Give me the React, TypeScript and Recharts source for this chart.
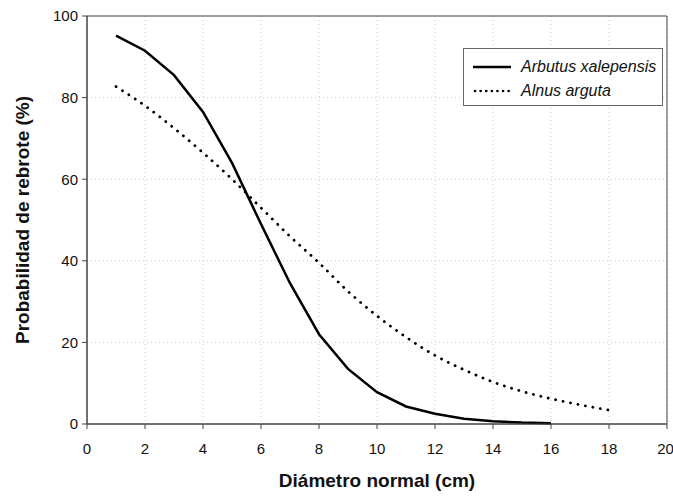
import {
  CartesianGrid,
  Legend,
  Line,
  LineChart,
  ReferenceArea,
  XAxis,
  YAxis,
} from "recharts";

const diametros = [1, 2, 3, 4, 5, 6, 7, 8, 9, 10, 11, 12, 13, 14, 15, 16, 17, 18];
const arbutus = [95.2, 91.5, 85.5, 76.5, 64, 49, 34.5, 22, 13.5, 7.8, 4.3, 2.5, 1.3, 0.7, 0.35, 0.2];
const alnus = [82.7, 78, 72.5, 66.5, 60, 53, 46, 39.5, 32.5, 26.5, 21.3, 16.8, 13.3, 10.3, 8, 6.2, 4.7, 3.4];
const xTicks = [0, 2, 4, 6, 8, 10, 12, 14, 16, 18, 20];
const yTicks = [0, 20, 40, 60, 80, 100];
const seriesNames = ["Arbutus xalepensis", "Alnus arguta"];

const data = diametros.map((d, i) => ({
  d,
  arbutus: arbutus[i],
  alnus: alnus[i],
}));

const font = "Arial, 'Liberation Sans', sans-serif";

const LegendBox = () => (
  <div
    style={{
      border: "1px solid #666",
      background: "#fff",
      padding: "6px 0 2px 9px",
      fontFamily: font,
      fontSize: 16,
      fontStyle: "italic",
      color: "#111",
      lineHeight: "24px",
      textAlign: "left",
    }}
  >
    {seriesNames.map((name, i) => (
      <div key={name} style={{ display: "flex", alignItems: "center" }}>
        <svg width={40} height={10} style={{ marginRight: 8 }}>
          <line
            x1={i === 0 ? 0 : 2}
            x2={38}
            y1={5}
            y2={5}
            stroke="#000"
            strokeWidth={i === 0 ? 2.5 : 2.6}
            strokeLinecap={i === 0 ? "butt" : "round"}
            strokeDasharray={i === 0 ? undefined : "0.1 5.5"}
          />
        </svg>
        {name}
      </div>
    ))}
  </div>
);

export default function App() {
  return (
    <div style={{ position: "absolute", left: 0, top: 0 }}>
      <LineChart
        width={673}
        height={496}
        data={data}
        margin={{ top: 16, right: 6, bottom: 0, left: 5 }}
        style={{ fontFamily: font }}
      >
        <CartesianGrid stroke="#c8c8c8" strokeDasharray="1 3" />
        <XAxis
          dataKey="d"
          type="number"
          domain={[0, 20]}
          ticks={xTicks}
          height={72}
          tickSize={5}
          tickMargin={14}
          stroke="#444"
          tick={{ fill: "#111", fontSize: 15 }}
          label={{
            value: "Diámetro normal (cm)",
            position: "insideBottom",
            offset: 9,
            style: { fontWeight: "bold", fontSize: 19, fill: "#111" },
          }}
        />
        <YAxis
          type="number"
          domain={[0, 100]}
          ticks={yTicks}
          width={82}
          tickSize={5}
          tickMargin={4}
          stroke="#444"
          tick={{ fill: "#111", fontSize: 15 }}
          label={{
            value: "Probabilidad de rebrote (%)",
            angle: -90,
            position: "insideLeft",
            offset: 17,
            style: { fontWeight: "bold", fontSize: 19, fill: "#111", textAnchor: "middle" },
          }}
        />
        <ReferenceArea x1={0} x2={20} y1={0} y2={100} fill="none" stroke="#444" ifOverflow="visible" />
        <Legend
          layout="horizontal"
          verticalAlign="middle"
          align="center"
          content={<LegendBox />}
          wrapperStyle={{ top: 48, left: 463, width: 200 }}
        />
        <Line
          dataKey="arbutus"
          name={seriesNames[0]}
          stroke="#000"
          strokeWidth={2.5}
          dot={false}
          type="linear"
          isAnimationActive={false}
        />
        <Line
          dataKey="alnus"
          name={seriesNames[1]}
          stroke="#000"
          strokeWidth={2.8}
          strokeDasharray="0.1 7.5"
          strokeLinecap="round"
          dot={false}
          type="monotone"
          isAnimationActive={false}
        />
      </LineChart>
    </div>
  );
}
